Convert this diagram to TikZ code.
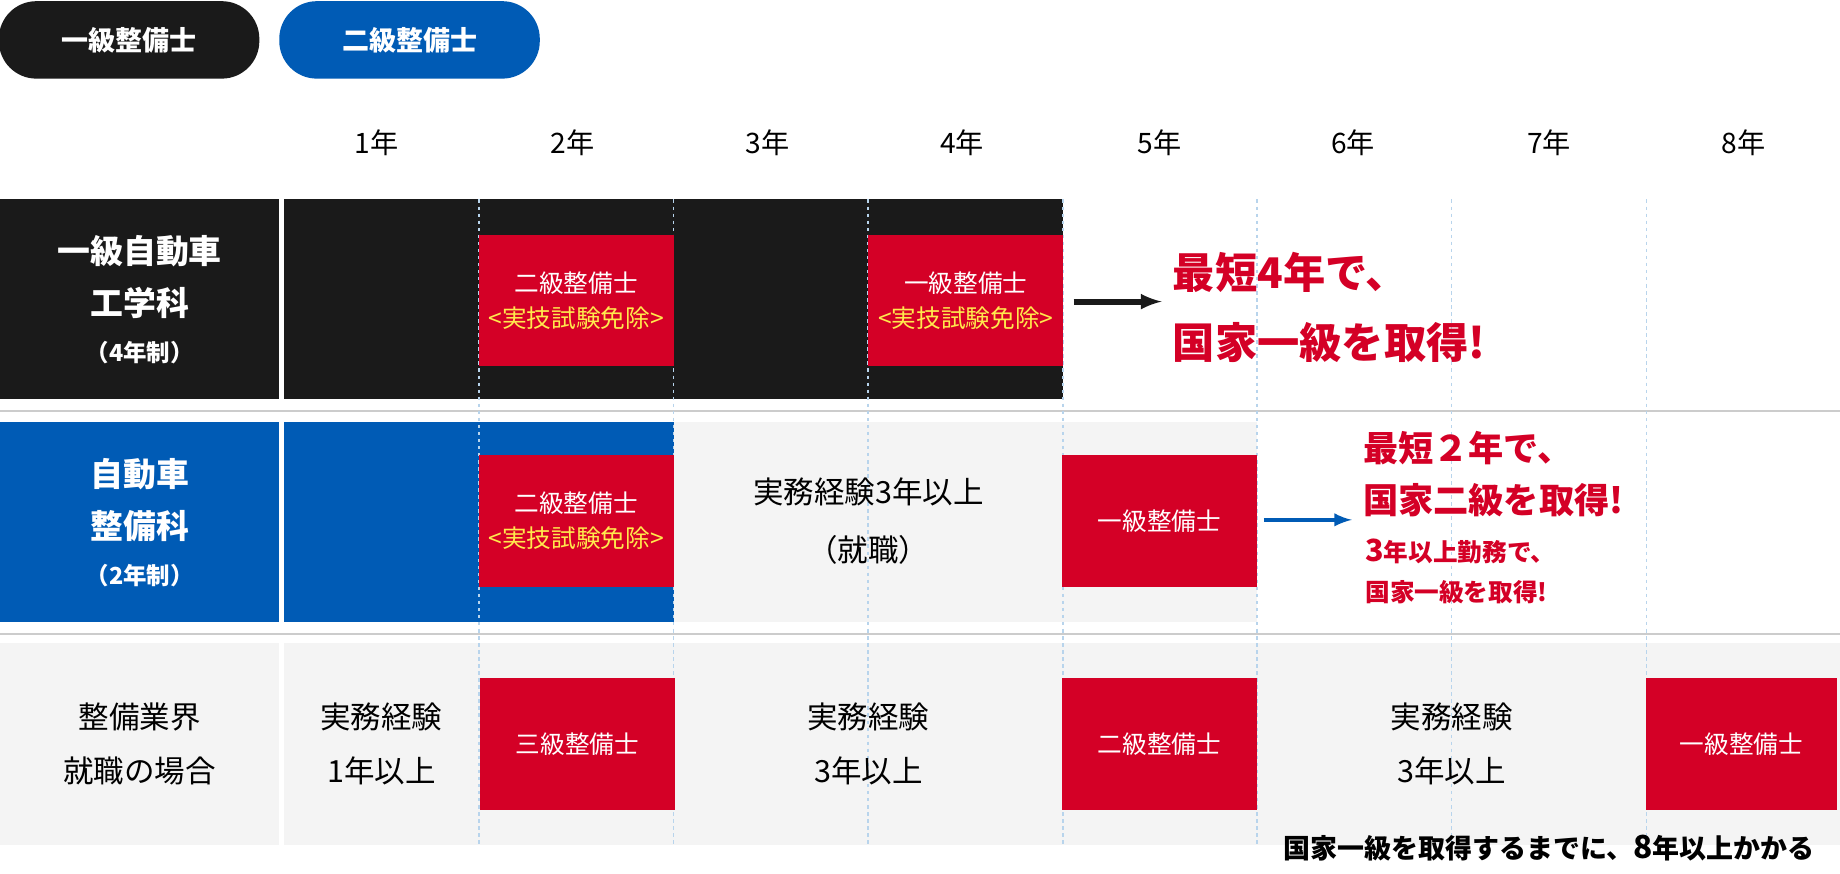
\documentclass[tikz,border=0pt]{standalone}
\usepackage{fontspec}
\setmainfont{Noto Sans CJK JP}
\usetikzlibrary{positioning}
\definecolor{ink}{HTML}{1A1A1A}
\definecolor{navy}{HTML}{005BB5}
\definecolor{crimson}{HTML}{D40026}
\definecolor{pale}{HTML}{F4F4F4}
\definecolor{gridblue}{HTML}{B8D4EC}
\definecolor{gold}{HTML}{FFE94D}
\tikzset{
  tab/.style={rounded corners=32pt, minimum width=222pt, minimum height=66pt, text=white, font=\fontsize{23}{23}\selectfont\bfseries},
  lic/.style={fill=crimson, minimum width=166pt, minimum height=112pt, text=white, align=center, inner sep=0pt, font=\fontsize{21}{30}\selectfont},
  plain/.style={align=center, font=\fontsize{26}{46}\selectfont},
  rowlabel/.style={align=center, text=white, font=\fontsize{28}{44}\selectfont\bfseries},
  gain/.style={text=crimson, align=left, anchor=west, font=\bfseries}
}
\begin{document}
\begin{tikzpicture}[x=1pt,y=-1pt]
  \useasboundingbox[fill=white] (0,0) rectangle (1568,744);
  % tabs
  \node[tab, fill=ink] (tab1) at (110,34) {一級整備士};
  \node[tab, fill=navy] (tab2) at (349,34) {二級整備士};
  % year header
  \foreach \y/\x in {1/321,2/488,3/654,4/820,5/988,6/1153,7/1320,8/1486}
    \node[font=\fontsize{24}{24}\selectfont] (yr\y) at (\x,122) {{\y}年};
  % row backgrounds
  \fill[ink] (0,170) rectangle (238,340);
  \fill[ink] (242,170) rectangle (906,340);
  \fill[navy] (0,360) rectangle (238,530);
  \fill[navy] (242,360) rectangle (574,530);
  \fill[pale] (574,360) rectangle (1071,530);
  \fill[pale] (0,548) rectangle (238,720);
  \fill[pale] (242,548) rectangle (1568,720);
  \draw[gray!40, line width=1.5pt] (0,350) -- (1568,350);
  \draw[gray!40, line width=1.5pt] (0,540) -- (1568,540);
  % dashed year borders
  \foreach \x in {408,574,740,906,1071,1237,1403}
    \draw[gridblue, dashed, line width=1.5pt] (\x,170) -- (\x,720);
  % row labels
  \node[rowlabel] (r1) at (119,236) {一級自動車\\工学科};
  \node[rowlabel, font=\fontsize{20}{20}\selectfont\bfseries, below=12pt of r1] (r1n) {（4年制）};
  \node[rowlabel] (r2) at (119,426) {自動車\\整備科};
  \node[rowlabel, font=\fontsize{20}{20}\selectfont\bfseries, below=12pt of r2] (r2n) {（2年制）};
  \node[plain] (r3) at (119,634) {整備業界\\就職の場合};
  % licences
  \node[lic] (a2) at (491,256) {二級整備士\\{\color{gold}<実技試験免除>}};
  \node[lic] (a1) at (823,256) {一級整備士\\{\color{gold}<実技試験免除>}};
  \node[lic] (b2) at (491,444) {二級整備士\\{\color{gold}<実技試験免除>}};
  \node[lic] (b1) at (988,444) {一級整備士};
  \node[lic] (c3) at (492,634) {三級整備士};
  \node[lic] (c2) at (988,634) {二級整備士};
  \node[lic, minimum width=162pt] (c1) at (1484,634) {一級整備士};
  % experience
  \node[plain, font=\fontsize{26}{50}\selectfont] (bx) at (740,444) {実務経験3年以上\\（就職）};
  \node[plain] (cx1) at (325,634) {実務経験\\1年以上};
  \node[plain] (cx3) at (740,634) {実務経験\\3年以上};
  \node[plain] (cx6) at (1237,634) {実務経験\\3年以上};
  % results
  \coordinate (a1e) at (990,257);
  \draw[ink, line width=5pt, -latex] (915,257) -- (a1e);
  \node[gain, font=\fontsize{36}{60}\selectfont\bfseries] (g1) at (996,262) {最短4年で、\\国家一級を取得!};
  \coordinate (b1e) at (1152,443);
  \draw[navy, line width=4pt, -latex] (1077,443) -- (b1e);
  \node[gain, font=\fontsize{30}{44}\selectfont\bfseries, anchor=north west] (g2) at (1158,364) {最短２年で、\\国家二級を取得!};
  \node[gain, font=\fontsize{21}{34}\selectfont\bfseries, anchor=north west] (g3) at (1160,456) {{\fontsize{26}{26}\selectfont 3}年以上勤務で、\\国家一級を取得!};
  \node[font=\fontsize{23}{23}\selectfont\bfseries, anchor=east] (note) at (1550,723) {国家一級を取得するまでに、{\fontsize{27}{27}\selectfont 8}年以上かかる};
\end{tikzpicture}
\end{document}
